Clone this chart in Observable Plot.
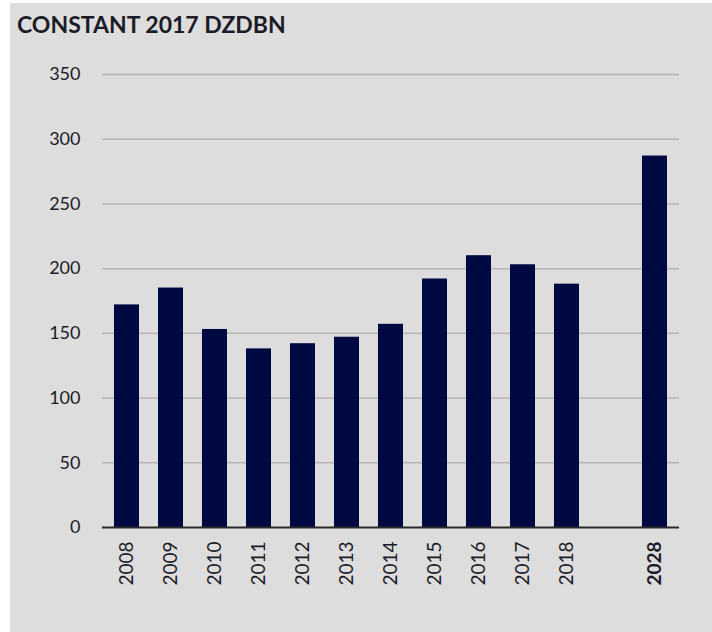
<!DOCTYPE html>
<html>
<head>
<meta charset="utf-8">
<script src="https://cdn.jsdelivr.net/npm/d3@7"></script>
<script src="https://cdn.jsdelivr.net/npm/@observablehq/plot@0.6"></script>
<style>
  html, body { margin: 0; padding: 0; background: #ffffff; }
  #bg { position: absolute; left: 10px; top: 3px; width: 702px; height: 629px; background: #dddddd; }
  #title { position: absolute; left: 17px; top: 13px; font-family: Lato, sans-serif; font-weight: 700; font-size: 23px; line-height: 1; color: #1c1c28; }
  #chart { position: absolute; left: 0; top: 45px; }
</style>
</head>
<body>
<div id="bg"></div>
<div id="title">CONSTANT 2017 DZDBN</div>
<div id="chart"></div>
<script>
const years = ["2008","2009","2010","2011","2012","2013","2014","2015","2016","2017","2018","gap","2028"];
const values = [172, 185, 153, 138, 142, 147, 157, 192, 210, 203, 188, null, 287];
const yTicks = [0, 50, 100, 150, 200, 250, 300, 350];

const data = years.map((y, i) => ({year: y, value: values[i]})).filter(d => d.value != null);

const chart = Plot.plot({
  width: 712,
  height: 587,
  marginLeft: 102,
  marginRight: 33,
  marginTop: 29,
  marginBottom: 105,
  style: {background: "transparent", fontFamily: "Lato, sans-serif", color: "#1c1c28"},
  x: {domain: years, paddingInner: 0.44, paddingOuter: 0.22, label: null},
  y: {domain: [0, 350], label: null},
  marks: [
    Plot.ruleY(yTicks.filter(t => t > 0), {stroke: "#b4b4b4", strokeWidth: 1.5}),
    Plot.barY(data, {x: "year", y: "value", fill: "#000842"}),
    Plot.ruleY([0], {stroke: "#2a2a2a", strokeWidth: 2}),
    Plot.axisY({ticks: yTicks, tickSize: 0, tickPadding: 22, fontSize: 18, label: null}),
    Plot.axisX({tickRotate: -90, tickSize: 0, tickPadding: 14, fontSize: 19, label: null,
      tickFormat: d => d === "gap" ? "" : d})
  ]
});
document.getElementById("chart").appendChild(chart);
d3.select(chart).selectAll("text").filter(function() { return this.textContent === "2028"; })
  .attr("font-weight", "bold");
</script>
</body>
</html>
